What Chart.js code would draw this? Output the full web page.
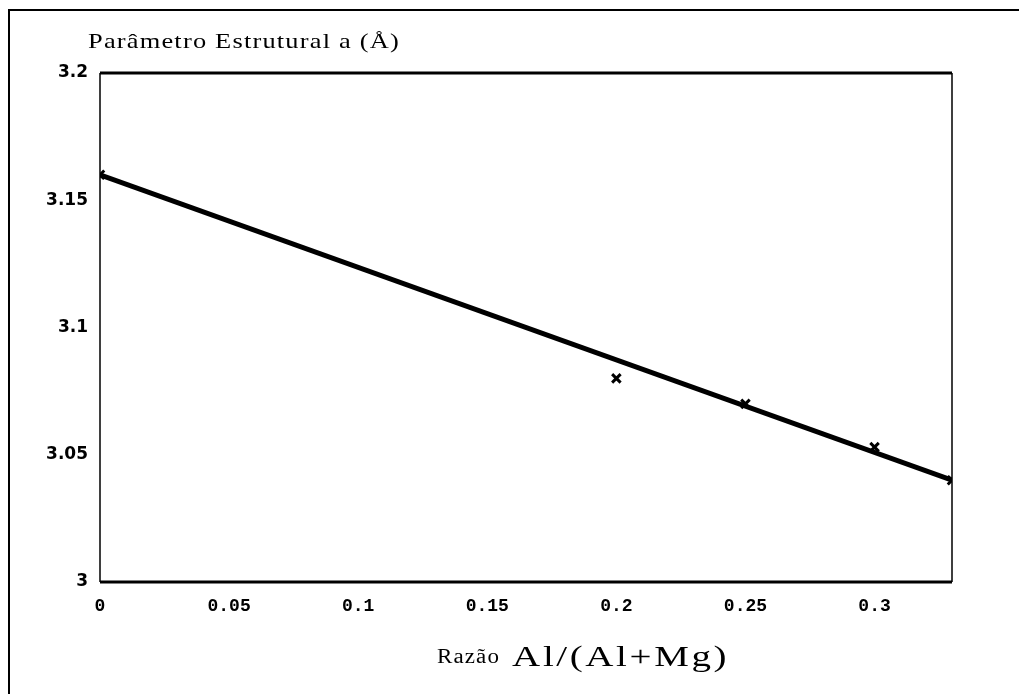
<!DOCTYPE html>
<html>
<head>
<meta charset="utf-8">
<script src="https://cdn.jsdelivr.net/npm/chart.js@4"></script>
<style>
  body { margin: 0; background: #fff; }
  #caixa { width: 1019px; height: 694px; }
</style>
</head>
<body>
<div id="caixa"><canvas id="grafico"></canvas></div>
<script>
// Dados
const razao = [0, 0.2, 0.25, 0.3, 0.33];
const parametroA = [3.16, 3.08, 3.07, 3.053, 3.04];

// Reta ajustada (extremos)
const razaoReta = [0, 0.33];
const parametroReta = [3.16, 3.04];

const ticksX = [0, 0.05, 0.1, 0.15, 0.2, 0.25, 0.3];
const ticksY = [3, 3.05, 3.1, 3.15, 3.2];

const tituloY = 'Parâmetro Estrutural a (Å)';
const tituloX1 = 'Razão';
const tituloX2 = 'Al/(Al+Mg)';

// Texto esticado na horizontal (a fonte do original é mais larga)
function textoLargo(c, texto, x, y, fonte, sx, esp) {
  c.save();
  c.font = fonte;
  c.letterSpacing = esp + 'px';
  c.translate(x, y);
  c.scale(sx, 1);
  c.fillText(texto, 0, 0);
  const w = c.measureText(texto).width * sx;
  c.restore();
  return w;
}

function larguraTexto(c, texto, fonte, sx, esp) {
  c.save();
  c.font = fonte;
  c.letterSpacing = esp + 'px';
  const w = c.measureText(texto).width * sx;
  c.restore();
  return w;
}

// Moldura, borda externa e títulos
const molduraPlugin = {
  id: 'moldura',
  beforeDraw(chart) {
    const c = chart.ctx;
    c.save();
    c.strokeStyle = '#000';
    c.lineWidth = 2;
    c.beginPath();
    c.moveTo(9, 694);
    c.lineTo(9, 10);
    c.lineTo(1019, 10);
    c.stroke();
    c.restore();
  },
  afterDraw(chart) {
    const c = chart.ctx;
    const a = chart.chartArea;
    c.save();
    c.strokeStyle = '#000';
    // topo e base grossos
    c.lineWidth = 3;
    c.beginPath();
    c.moveTo(a.left, a.top);
    c.lineTo(a.right, a.top);
    c.moveTo(a.left, a.bottom);
    c.lineTo(a.right, a.bottom);
    c.stroke();
    // laterais finas
    c.lineWidth = 1.5;
    c.beginPath();
    c.moveTo(a.left, a.top);
    c.lineTo(a.left, a.bottom);
    c.moveTo(a.right, a.top);
    c.lineTo(a.right, a.bottom);
    c.stroke();

    c.fillStyle = '#000';
    c.textBaseline = 'middle';
    c.textAlign = 'left';
    textoLargo(c, tituloY, a.left - 12, a.top - 31, '22px "Liberation Serif"', 1.2, 1);

    const f1 = '20px "Liberation Serif"';
    const f2 = '30px "Liberation Serif"';
    const w1 = larguraTexto(c, tituloX1, f1, 1.15, 1);
    const w2 = larguraTexto(c, tituloX2, f2, 1.3, 2);
    const esp = 12;
    const x = (a.left + a.right) / 2 + 57 - (w1 + esp + w2) / 2;
    const y = a.bottom + 76;
    textoLargo(c, tituloX1, x, y, f1, 1.15, 1);
    textoLargo(c, tituloX2, x + w1 + esp, y, f2, 1.3, 2);
    c.restore();
  }
};

const ctx = document.getElementById('grafico').getContext('2d');
const grafico = new Chart(ctx, {
  type: 'scatter',
  data: {
    datasets: [
      {
        label: 'Reta',
        data: razaoReta.map((x, i) => ({ x, y: parametroReta[i] })),
        showLine: true,
        borderColor: '#000',
        borderWidth: 5,
        pointRadius: 0,
        order: 2
      },
      {
        label: 'Parâmetro a',
        data: razao.map((x, i) => ({ x, y: parametroA[i] })),
        pointStyle: 'crossRot',
        pointRadius: 6,
        borderColor: '#000',
        borderWidth: 3,
        order: 1
      }
    ]
  },
  options: {
    responsive: true,
    maintainAspectRatio: false,
    animation: false,
    layout: { padding: { top: 73, right: 67, left: 0, bottom: 0 } },
    plugins: {
      legend: { display: false },
      tooltip: { enabled: false }
    },
    scales: {
      x: {
        type: 'linear',
        min: 0,
        max: 0.33,
        afterFit(scale) { scale.height = 112; },
        afterBuildTicks(scale) { scale.ticks = ticksX.map(v => ({ value: v })); },
        grid: { display: false, drawTicks: false },
        border: { display: false },
        ticks: {
          padding: 14,
          color: '#000',
          font: { family: '"Liberation Mono"', size: 18, weight: 'bold' },
          callback: v => String(v)
        }
      },
      y: {
        min: 3,
        max: 3.2,
        afterFit(scale) { scale.width = 100; },
        afterBuildTicks(scale) { scale.ticks = ticksY.map(v => ({ value: v })); },
        grid: { display: false, drawTicks: false },
        border: { display: false },
        ticks: {
          padding: 12,
          color: '#000',
          font: { family: '"DejaVu Sans"', size: 17, weight: 'bold' },
          callback: v => String(parseFloat(v.toFixed(2)))
        }
      }
    }
  },
  plugins: [molduraPlugin]
});
</script>
</body>
</html>
